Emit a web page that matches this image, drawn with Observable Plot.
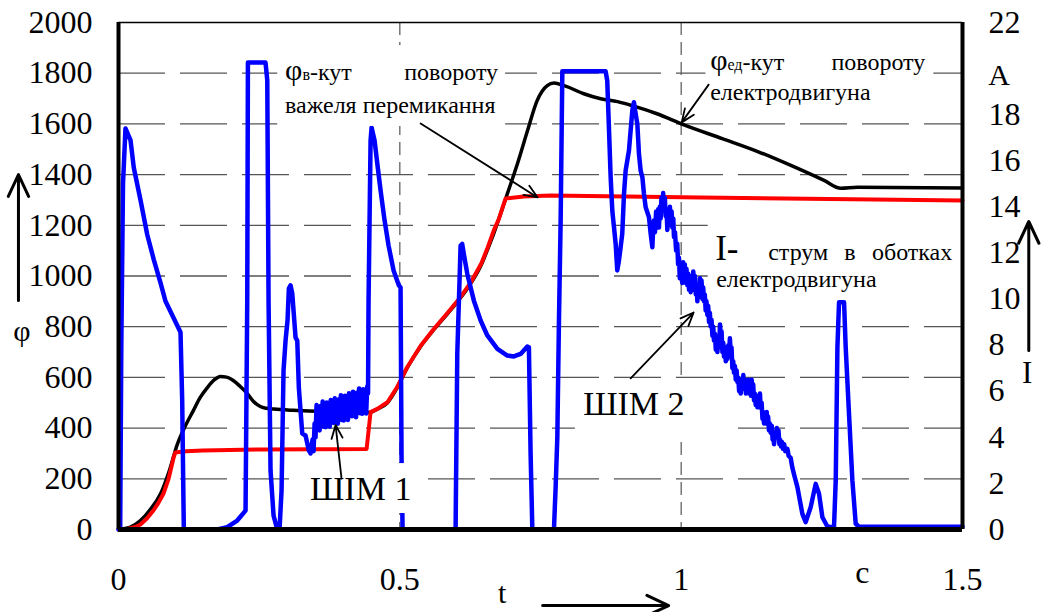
<!DOCTYPE html>
<html><head><meta charset="utf-8">
<script src="https://cdn.jsdelivr.net/npm/d3@7"></script>
<script src="https://cdn.jsdelivr.net/npm/@observablehq/plot@0.6"></script>
<style>
html,body{margin:0;padding:0;background:#fff;}
#chart svg{font-family:"Liberation Serif","Times New Roman",serif;}
</style></head><body><div id="chart"></div>
<script>
// ---- data (t in s, φ in units of left axis, I in A) ----
const xTicks = [0, 0.5, 1, 1.5];
const leftTicks = [0,200,400,600,800,1000,1200,1400,1600,1800,2000];
const gridPhi = [200,400,600,800,1000,1200,1400,1600,1800];
const gridT = [0.5, 1];
const rightTicks = [0,2,4,6,8,10,12,14,16,18,22];
const rightMax = 22, leftMax = 2000;

// φв - lever angle (red)
const phiLever = [[0,0],[0.016,2],[0.03,10],[0.039,20],[0.05,42],[0.062,75],[0.071,105],[0.08,142],[0.089,200],[0.098,284],[0.101,304],[0.12,309],[0.15,312],[0.25,316],[0.35,317],[0.441,318],[0.448,463],[0.46,476],[0.478,502],[0.495,561],[0.513,640],[0.537,725],[0.56,790],[0.585,855],[0.603,903],[0.626,974],[0.645,1050],[0.656,1112],[0.667,1180],[0.676,1225],[0.688,1306],[0.72,1314],[0.768,1318],[1.035,1310],[1.5,1298]];
// φед - motor angle (black)
const phiMotor = [[0,0],[0.02,8],[0.039,35],[0.055,75],[0.075,142],[0.09,230],[0.105,339],[0.118,405],[0.133,469],[0.145,520],[0.158,560],[0.17,590],[0.181,604],[0.192,601],[0.204,588],[0.216,565],[0.229,536],[0.24,505],[0.252,485],[0.263,478],[0.276,475],[0.31,470],[0.35,466],[0.40,463],[0.441,462],[0.448,463],[0.46,475],[0.478,500],[0.495,558],[0.513,637],[0.537,722],[0.56,787],[0.585,852],[0.603,900],[0.626,970],[0.645,1045],[0.656,1105],[0.667,1168],[0.679,1245],[0.691,1324],[0.709,1443],[0.727,1574],[0.744,1692],[0.762,1751],[0.774,1761],[0.792,1751],[0.827,1719],[0.857,1699],[0.887,1688],[0.916,1670],[0.957,1640],[1.005,1596],[1.073,1542],[1.135,1492],[1.195,1436],[1.254,1377],[1.284,1346],[1.313,1350],[1.5,1347]];
// I - motor current (blue)
const current = [[0,0],[0.003,0],[0.005,8],[0.008,15],[0.0124,17.4],[0.0213,16.9],[0.0272,15.7],[0.0391,14.3],[0.051,12.8],[0.0628,11.7],[0.0747,10.7],[0.0836,9.9],[0.1102,8.56],[0.1132,5.6],[0.1161,0],
[0.1755,0],[0.1932,0.1],[0.211,0.39],[0.2258,0.82],[0.2288,9.9],[0.230,20.26],[0.2613,20.26],[0.2644,19.5],[0.2667,9.9],[0.2702,2.56],[0.2756,0.6],[0.2821,0],[0.2862,0],[0.2898,1.7],[0.2933,6.9],[0.2969,8.2],[0.3004,9.07],[0.3028,10.46],[0.3058,10.59],[0.3088,10.24],[0.3147,8.33],[0.3177,8.2],[0.3205,6.16],[0.3266,4.16],[0.3324,4.08],[0.3383,3.43],[0.3413,3.3],
[0.3449,3.9],[0.3467,3.4],[0.3485,4.6],[0.3502,4.0],
[0.352,5.40],[0.3538,4.42],[0.3556,5.18],[0.3574,4.30],[0.3592,5.36],[0.361,4.73],[0.3628,5.55],[0.3646,4.46],[0.3664,5.13],[0.3682,4.44],[0.37,5.51],[0.3718,4.68],[0.3736,5.29],[0.3754,4.46],[0.3772,5.62],[0.379,4.79],[0.3808,5.51],[0.3826,4.62],[0.3844,5.69],[0.3862,4.70],[0.388,5.47],[0.3898,4.59],[0.3916,5.65],[0.3934,5.02],[0.3952,5.83],[0.397,4.75],[0.3988,5.42],[0.4006,4.73],[0.4024,5.80],[0.4042,4.96],[0.406,5.58],[0.4078,4.75],[0.4096,5.91],[0.4114,5.08],[0.4132,5.79],[0.415,4.91],[0.4168,5.98],[0.4186,4.99],[0.4204,5.76],[0.4222,4.87],[0.424,5.94],[0.4258,5.31],[0.4276,6.12],[0.4294,5.04],[0.4312,5.70],[0.433,5.02],[0.4348,6.09],[0.4366,5.25],[0.4384,5.87],[0.4402,5.03],[0.442,6.20],[0.4435,5.9],
[0.4444,9.93],[0.448,16.88],[0.4498,17.44],[0.4551,16.88],[0.4604,15.79],[0.4658,14.71],[0.4729,13.41],[0.48,12.32],[0.4889,11.24],[0.4983,10.59],[0.5013,10.5],[0.5031,3.0],[0.5049,0],
[0.5991,0],[0.6021,7.64],[0.608,12.32],[0.6108,12.39],[0.6137,11.96],[0.6199,11.09],[0.6316,9.93],[0.6436,9.07],[0.6555,8.42],[0.6733,7.84],[0.691,7.55],[0.7027,7.51],[0.7147,7.62],[0.7266,7.94],[0.7294,7.91],[0.7324,3.3],[0.7355,0],
[0.7739,0],[0.7769,1.84],[0.7799,4.0],[0.7828,9.07],[0.7858,13.41],[0.7888,19.88],[0.8658,19.88],[0.8686,19.48],[0.8716,17.45],[0.8747,15.28],[0.8776,13.84],[0.8836,12.39],[0.8864,11.24],[0.8894,11.67],[0.8924,12.25],[0.8953,12.83],[0.8984,14.56],[0.9013,15.57],[0.9072,16.44],[0.9132,18.18],[0.9161,18.54],[0.9191,18.03],[0.9221,17.6],[0.925,16.3],[0.928,15.57],[0.9311,15.28],[0.9339,14.56],[0.9369,13.98],[0.9428,13.55],[0.9458,12.83],
[0.9488,12.25],[0.9502,13.0],[0.9516,13.41],[0.9535,12.9],[0.9555,13.8],[0.9577,13.2],[0.9592,13.9],[0.9605,13.1],[0.962,14.0],[0.9636,13.5],[0.965,14.4],[0.9664,13.9],[0.968,14.6],[0.9694,14.0],[0.971,14.4],[0.9724,13.6],[0.974,13.9],[0.9754,13.0],[0.977,13.9],[0.9783,13.4],[0.98,14.0],[0.9815,13.2],[0.983,13.8],[0.9843,13.1],[0.986,13.5],[0.9872,12.7],[0.989,12.9],[0.991,12.1],[0.9931,12.4],[0.9946,11.5],[0.9961,11.8],[0.9976,10.9],[0.9991,11.2],[1.002,10.7],[1.0035,11.6],[1.005,11.0],[1.0065,11.5],[1.008,10.7],[1.0095,11.3],[1.0109,10.6],[1.0125,11.1],[1.014,10.4],[1.0155,11.0],[1.0169,10.3],[1.0185,10.9],[1.02,10.4],[1.0215,11.2],[1.0228,10.7],[1.0245,11.0],[1.026,10.2],[1.0275,10.6],[1.0288,9.9],[1.0305,10.6],[1.032,10.1],[1.0335,10.9],[1.0347,10.4],[1.0362,10.8],[1.0378,10.0],[1.0392,10.5],[1.0405,9.9],[1.042,10.2],[1.0436,9.5],[1.045,9.9],[1.0466,9.3],[1.048,9.7],[1.0495,9.0],[1.051,9.4],[1.0524,8.8],[1.054,9.1],[1.0555,8.4],[1.057,8.8],[1.0583,8.2],[1.06,8.5],[1.0615,7.8],[1.063,8.2],[1.0644,7.7],[1.066,8.4],[1.0675,7.9],[1.069,8.9],[1.0702,8.3],[1.0718,8.6],[1.0733,7.7],[1.0748,8.1],[1.0761,7.5],[1.0778,7.9],[1.0793,7.3],[1.0808,7.9],[1.0821,7.4],[1.0838,8.0],[1.0852,7.6],[1.0866,8.3],[1.088,7.7],[1.0895,7.9],[1.091,7.0],[1.0925,7.3],[1.0939,6.8],[1.0955,7.1],[1.097,6.5],[1.0985,6.9],[1.1,6.4],[1.1015,6.6],[1.103,6.0],[1.1045,6.4],[1.1058,5.9],[1.1075,6.5],[1.109,6.1],[1.1105,6.7],[1.112,6.2],[1.1135,6.5],[1.115,5.9],[1.1165,6.4],[1.1177,6.0],[1.1195,6.5],[1.121,5.9],[1.1225,6.3],[1.124,5.8],[1.1253,6.5],[1.1266,6.0],[1.128,6.3],[1.1295,5.6],[1.131,5.9],[1.1325,5.4],[1.134,5.8],[1.1355,5.3],[1.137,5.8],[1.1385,5.4],[1.14,5.9],[1.1413,5.3],[1.143,5.5],[1.1445,4.8],[1.146,5.1],[1.1472,4.6],[1.149,5.0],[1.1505,4.6],[1.152,5.1],[1.153,4.7],[1.1545,4.9],[1.156,4.3],[1.1575,4.6],[1.1591,4.2],[1.161,4.5],[1.1625,3.9],[1.164,4.2],[1.165,3.7],[1.167,4.2],[1.1685,4.0],[1.17,4.4],[1.171,4.1],[1.173,4.3],[1.1745,3.7],[1.176,3.9],[1.1775,3.6],[1.179,3.8],[1.181,3.5],[1.183,3.7],[1.185,3.4],[1.1888,3.5],[1.191,3.2],[1.1947,3.1],[1.1975,2.7],[1.2005,2.4],
[1.2066,1.84],[1.2154,0.68],[1.2213,0.32],[1.2302,0.97],[1.2391,1.98],[1.245,1.55],[1.251,0.53],[1.2599,0.13],[1.2716,0.09],[1.2747,2.13],[1.2777,7.91],[1.2806,9.86],[1.2895,9.86],[1.2924,7.91],[1.2983,5.02],[1.3043,2.13],[1.3102,0.25],[1.3161,0.12],[1.5,0.12]];

// ---- annotation layout (data coordinates) ----
const boxes = [
  {t1:0.283, t2:0.688, p1:1590, p2:1909},
  {t1:1.044, t2:1.449, p1:1673, p2:1930},
  {t1:1.048, t2:1.5,   p1:935,  p2:1211},
  {t1:0.812, t2:1.085, p1:371,  p2:580},
  {t1:0.306, t2:0.546, p1:63,   p2:260}
];
const pointers = [
  {x1:0.5369, y1:1602, x2:0.7449, y2:1310},
  {x1:1.0489, y1:1755, x2:1.0009, y2:1606},
  {x1:0.3964, y1:201,  x2:0.3858, y2:412},
  {x1:0.9102, y1:596,  x2:1.0222, y2:856}
];
const axisArrows = [
  {x1:0.7538, y1:-300, x2:0.9778, y2:-300},
  {x1:-0.1778, y1:903, x2:-0.1778, y2:1400},
  {x1:1.6178, y1:706, x2:1.6178, y2:1215}
];
const labels = [
  {t:0.2969, v:1771, a:"start",  parts:[["φ",30],["в",16],["-кут",24]]},
  {t:0.6756, v:1771, a:"end",    parts:[["повороту",24]]},
  {t:0.2969, v:1641, a:"start",  parts:[["важеля перемикання",24]]},
  {t:1.0524, v:1811, a:"start",  parts:[["φ",30],["ед",16],["-кут",24]]},
  {t:1.4347, v:1811, a:"end",    parts:[["повороту",24]]},
  {t:1.0524, v:1692, a:"start",  parts:[["електродвигуна",24]]},
  {t:1.0613, v:1061, a:"start",  parts:[["I-",35]]},
  {t:1.1556, v:1061, a:"start",  parts:[["струм",24]]},
  {t:1.2907, v:1061, a:"start",  parts:[["в",24]]},
  {t:1.4827, v:1061, a:"end",    parts:[["оботках",24]]},
  {t:1.0631, v:955,  a:"start",  parts:[["електродвигуна",24]]},
  {t:0.3413, v:114,  a:"start",  parts:[["ШІМ 1",34]]},
  {t:0.8267, v:450,  a:"start",  parts:[["ШІМ 2",34]]},
  {t:-0.1707, v:742, a:"middle", parts:[["φ",30]]},
  {t:1.6160, v:576,  a:"middle", parts:[["I",31]]},
  {t:0.6827, v:-290, a:"middle", parts:[["t",30]]},
  {t:1.3227, v:-213, a:"middle", parts:[["c",32]]},
  {t:1.5467, v:1751, a:"start",  parts:[["A",30]]}
];

const toObj = a => a.map(([t, v]) => ({t, v}));
const red = toObj(phiLever), black = toObj(phiMotor), blue = toObj(current);
const toLeft = i => i * leftMax / rightMax;
const rightLabel = new Map(rightTicks.map(r => [Math.round(toLeft(r) * 1000), String(r)]));
const serif = "Liberation Serif, Times New Roman, serif";

const plot = Plot.plot({
  width: 1042, height: 612,
  marginLeft: 118, marginRight: 80, marginTop: 22, marginBottom: 83,
  x: {domain: [0, 1.5]},
  y: {domain: [0, 2000]},
  style: {fontFamily: serif, fontSize: "32px", color: "#000", background: "#fff", overflow: "visible"},
  marks: [
    Plot.ruleY(gridPhi, {stroke: "#555", strokeWidth: 1.3, strokeDasharray: "47,15"}),
    Plot.ruleX(gridT, {stroke: "#555", strokeWidth: 1.2, strokeDasharray: "13,7"}),
    Plot.line(black, {x: "t", y: "v", stroke: "#000", strokeWidth: 3.5, curve: "monotone-x"}),
    Plot.line(red, {x: "t", y: "v", stroke: "#ff0000", strokeWidth: 4}),
    Plot.line(blue, {x: "t", y: d => toLeft(d.v), stroke: "#0000ff", strokeWidth: 4.5, strokeLinejoin: "round"}),
    Plot.rect(boxes, {x1: "t1", x2: "t2", y1: "p1", y2: "p2", fill: "#fff"}),
    Plot.ruleY([2000], {stroke: "#000", strokeWidth: 1.5}),
    Plot.ruleX([0], {stroke: "#000", strokeWidth: 4}),
    Plot.ruleX([1.5], {stroke: "#000", strokeWidth: 4}),
    Plot.ruleY([0], {stroke: "#000", strokeWidth: 5}),
    Plot.axisY(leftTicks, {anchor: "left", tickSize: 0, tickPadding: 26, label: null, fontSize: 32, tickFormat: d => String(d)}),
    Plot.axisY(rightTicks.map(toLeft), {anchor: "right", tickSize: 0, tickPadding: 26, label: null, fontSize: 32,
      tickFormat: d => rightLabel.get(Math.round(d * 1000))}),
    Plot.axisX(xTicks, {anchor: "bottom", tickSize: 0, tickPadding: 38, label: null, fontSize: 32, tickFormat: d => String(d)}),
    Plot.arrow(pointers, {x1: "x1", y1: "y1", x2: "x2", y2: "y2", stroke: "#000", strokeWidth: 1.8, headLength: 12, headAngle: 45}),
    Plot.arrow(axisArrows, {x1: "x1", y1: "y1", x2: "x2", y2: "y2", stroke: "#000", strokeWidth: 3, headLength: 12, headAngle: 50})
  ]
});
document.getElementById("chart").appendChild(plot);

const X = plot.scale("x"), Y = plot.scale("y");
const svg = d3.select(plot);
const g = svg.append("g").attr("font-family", serif).attr("fill", "#000");
for (const l of labels) {
  const txt = g.append("text")
    .attr("x", X.apply(l.t)).attr("y", Y.apply(l.v))
    .attr("text-anchor", l.a);
  for (const [s, size] of l.parts) txt.append("tspan").attr("font-size", size).text(s);
}
</script></body></html>
